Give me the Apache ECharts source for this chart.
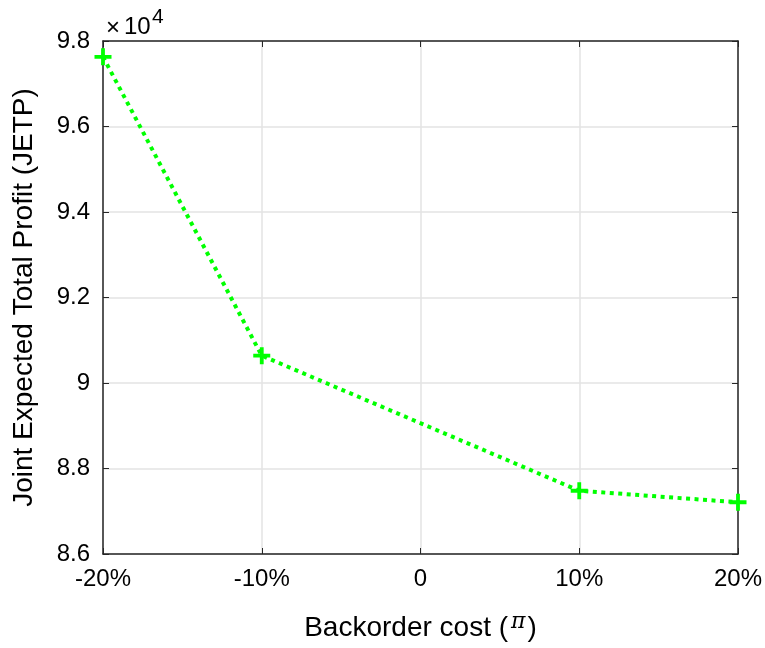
<!DOCTYPE html>
<html>
<head>
<meta charset="utf-8">
<script src="https://cdn.jsdelivr.net/npm/echarts@6/dist/echarts.min.js"></script>
<style>
  html, body { margin: 0; padding: 0; background: #fff; }
  #chart { width: 765px; height: 648px; }
</style>
</head>
<body>
<div id="chart"></div>
<script>
// backorder cost change (%) and joint expected total profit
const costChange = [-20, -10, 10, 20];
const jetp = [97630, 90640, 87480, 87210];
const xTicks = [-20, -10, 0, 10, 20];

const points = costChange.map((c, i) => [c, jetp[i]]);
const plusPath = 'path://M-1.8,-8 H1.8 V-1.8 H8 V1.8 H1.8 V8 H-1.8 V1.8 H-8 V-1.8 H-1.8 Z';
const font = '"Liberation Sans", Arial, Helvetica, sans-serif';
const axisColor = '#262626';

const chart = echarts.init(document.getElementById('chart'));
chart.setOption({
  animation: false,
  grid: { left: 103, right: 27, top: 41, bottom: 94, containLabel: false, outerBoundsMode: 'none' },
  graphic: [{
    type: 'text',
    style: { x: 106, y: 28, text: '×', verticalAlign: 'middle', fontSize: 24, fontFamily: font, fill: '#000' }
  }, {
    type: 'text',
    style: { x: 124, y: 27, text: '10', verticalAlign: 'middle', fontSize: 24, fontFamily: font, fill: '#000' }
  }, {
    type: 'text',
    style: { x: 152, y: 17, text: '4', verticalAlign: 'middle', fontSize: 21, fontFamily: font, fill: '#000' }
  }],
  xAxis: [{
    type: 'value',
    min: -20, max: 20, interval: 10,
    name: '{n|Backorder cost (}{p|π}{n|)}',
    nameLocation: 'middle',
    nameGap: 57,
    nameTextStyle: {
      rich: {
        n: { fontSize: 28, fontFamily: font, color: '#000' },
        p: { fontSize: 22, fontFamily: '"DejaVu Serif", serif', fontStyle: 'italic', color: '#000', padding: [0, 2, 12, 3] }
      }
    },
    axisLine: { show: true, onZero: false, lineStyle: { color: axisColor, width: 1.5 } },
    axisTick: { show: true, inside: true, length: 6, lineStyle: { color: axisColor } },
    axisLabel: {
      fontSize: 24, fontFamily: font, color: '#000', margin: 13,
      formatter: v => (xTicks.includes(v) ? (v === 0 ? '0' : v + '%') : '')
    },
    splitLine: { show: true, lineStyle: { color: '#e3e3e3', width: 1.5 } }
  }, {
    type: 'value',
    position: 'top',
    min: -20, max: 20, interval: 10,
    axisLine: { show: true, onZero: false, lineStyle: { color: axisColor, width: 1.5 } },
    axisTick: { show: true, inside: true, length: 6, lineStyle: { color: axisColor } },
    axisLabel: { show: false },
    splitLine: { show: false }
  }],
  yAxis: [{
    type: 'value',
    min: 86000, max: 98000, interval: 2000,
    name: 'Joint Expected Total Profit (JETP)',
    nameLocation: 'middle',
    nameGap: 65,
    nameTextStyle: { fontSize: 28, fontFamily: font, color: '#000' },
    axisLine: { show: true, onZero: false, lineStyle: { color: axisColor, width: 1.5 } },
    axisTick: { show: true, inside: true, length: 6, lineStyle: { color: axisColor } },
    axisLabel: {
      fontSize: 24, fontFamily: font, color: '#000', margin: 13,
      formatter: v => String(parseFloat((v / 10000).toFixed(1)))
    },
    splitLine: { show: true, lineStyle: { color: '#e3e3e3', width: 1.5 } }
  }, {
    type: 'value',
    position: 'right',
    min: 86000, max: 98000, interval: 2000,
    axisLine: { show: true, onZero: false, lineStyle: { color: axisColor, width: 1.5 } },
    axisTick: { show: true, inside: true, length: 6, lineStyle: { color: axisColor } },
    axisLabel: { show: false },
    splitLine: { show: false }
  }],
  series: [{
    type: 'line',
    data: points,
    xAxisIndex: 0,
    yAxisIndex: 0,
    symbol: plusPath,
    symbolSize: 17,
    itemStyle: { color: '#00ff00' },
    lineStyle: { color: '#00ff00', width: 4, type: [4, 4.5] },
    z: 5
  }]
});
</script>
</body>
</html>
